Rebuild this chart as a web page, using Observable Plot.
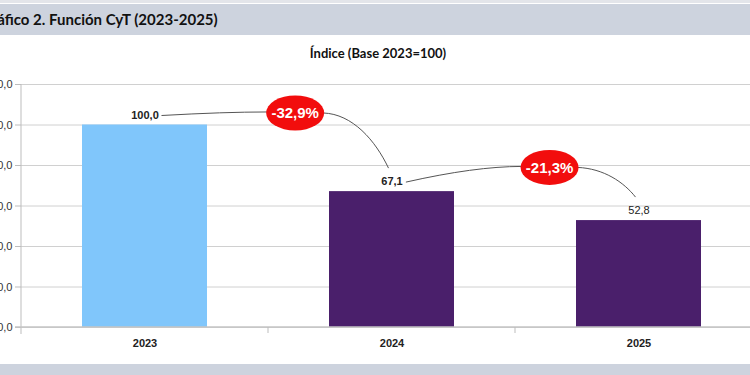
<!DOCTYPE html>
<html>
<head>
<meta charset="utf-8">
<script src="https://cdn.jsdelivr.net/npm/d3@7"></script>
<script src="https://cdn.jsdelivr.net/npm/@observablehq/plot@0.6"></script>
<style>
  html, body { margin: 0; padding: 0; background: #fff; }
  body { width: 750px; height: 375px; overflow: hidden; position: relative; font-family: "Liberation Sans", Arial, sans-serif; }
  #topstrip { position: absolute; left: 0; top: 0; width: 750px; height: 3px; background: #e3e5ea; }
  #title { position: absolute; left: 0; top: 4px; width: 750px; height: 31px; background: #cdd3de;
           font-family: Lato, "Open Sans", sans-serif; font-weight: 700; font-size: 15px; line-height: 31px;
           white-space: nowrap; overflow: hidden; color: #111; }
  #title span { display: inline-block; margin-left: -19px; }
  #subtitle { position: absolute; left: 0; top: 44px; width: 756px; text-align: center;
              font-family: Lato, "Open Sans", sans-serif; font-weight: 700; font-size: 13px; line-height: 18px; color: #111; }
  #chart { position: absolute; left: -39px; top: 70px; }
  #bottom { position: absolute; left: 0; top: 364px; width: 750px; height: 11px; background: #cdd3de; }
</style>
</head>
<body>
<div id="topstrip"></div>
<div id="title"><span></span></div>
<div id="subtitle"></div>
<div id="chart"></div>
<div id="bottom"></div>
<script>
// ---- data ----
const title = "Gráfico 2. Función CyT (2023-2025)";
const subtitle = "Índice (Base 2023=100)";
const years = ["2023", "2024", "2025"];
const values = [100.0, 67.1, 52.8];
const barColors = ["#80c6fb", "#4a1f6b", "#4a1f6b"];
const changes = ["-32,9%", "-21,3%"];
const yTicks = [0, 20, 40, 60, 80, 100, 120];

// ---- layout of the callouts (positions, not data) ----
const callout = [{frac: 0.61, at: 105.7}, {frac: 0.64, at: 78.8}];

const fmt = d => d.toFixed(1).replace(".", ",");
const data = years.map((year, i) => ({year, value: values[i], color: barColors[i], label: fmt(values[i])}));

document.querySelector("#title span").textContent = title;
document.querySelector("#subtitle").textContent = subtitle;

function decorations(index, scales, vals, dims) {
  const {x, y} = scales;
  const bw = typeof x.bandwidth === "function" ? x.bandwidth() : (x.bandwidth || 0);
  const cx = k => x(years[k]) + bw / 2;
  const step = cx(1) - cx(0);
  const left = dims.marginLeft, right = dims.width - dims.marginRight, top = dims.marginTop;
  const y0 = y(0);
  const g = d3.create("svg:g");
  // axis lines
  g.append("line").attr("x1", left).attr("x2", left).attr("y1", top).attr("y2", y0 + 7)
    .attr("stroke", "#bdbdbd");
  g.append("line").attr("x1", left - 6).attr("x2", right).attr("y1", y0).attr("y2", y0)
    .attr("stroke", "#c4c4c4").attr("stroke-width", 1.5);
  for (let k = 0; k < years.length - 1; k++) {
    const xs = cx(k) + step / 2;
    g.append("line").attr("x1", xs).attr("x2", xs).attr("y1", y0).attr("y2", y0 + 6).attr("stroke", "#bdbdbd");
  }
  // callouts
  const rx = 29, ry = 17.5;
  callout.forEach((c, i) => {
    const half = data[i].label.length * 2.6;
    const lx = cx(i) + half + 4, ly = y(values[i]) - 9;
    const ex = cx(i) + c.frac * step, ey = y(c.at);
    const ax = ex - rx + 1, ay = ey - 1;
    const nx = cx(i + 1) - 3, ny = y(values[i + 1]) - 10 - 13;
    const bx = ex + rx - 1, by = ey;
    g.append("path")
      .attr("d", `M${lx},${ly} Q${lx + 0.6 * (ax - lx)},${ay} ${ax},${ay}`)
      .attr("fill", "none").attr("stroke", "#555").attr("stroke-width", 1);
    const dx = nx - bx, dy = ny - by;
    g.append("path")
      .attr("d", `M${bx},${by} C${bx + 0.45 * dx},${by + 1} ${nx - 0.2 * dx},${ny - 0.5 * dy} ${nx},${ny}`)
      .attr("fill", "none").attr("stroke", "#555").attr("stroke-width", 1);
    g.append("ellipse").attr("cx", ex).attr("cy", ey).attr("rx", rx).attr("ry", ry).attr("fill", "#f20d0d");
    g.append("text").attr("x", ex).attr("y", ey).attr("dy", "0.36em")
      .attr("text-anchor", "middle").attr("fill", "#fff")
      .attr("font-family", "'Liberation Sans', Arial, sans-serif")
      .attr("font-weight", "bold").attr("font-size", 15).text(changes[i]);
  });
  return g.node();
}

const chart = Plot.plot({
  width: 801,
  height: 293,
  marginLeft: 60,
  marginRight: 0,
  marginTop: 14,
  marginBottom: 36,
  style: {maxWidth: "none", overflow: "visible", background: "transparent",
          fontFamily: "'Liberation Sans', Arial, sans-serif"},
  x: {domain: years, paddingInner: 0.494, paddingOuter: 0.247, align: 0.5, label: null},
  y: {domain: [0, 120], label: null},
  color: {type: "identity"},
  marks: [
    Plot.gridY(yTicks, {stroke: "#d0d0d0", strokeOpacity: 1}),
    Plot.barY(data, {x: "year", y: "value", fill: "color"}),
    Plot.axisY({ticks: yTicks, tickSize: 6, tickPadding: 3, tickFormat: fmt, stroke: "#bdbdbd",
                fill: "#333", fontSize: 11, label: null}),
    Plot.axisX({tickSize: 0, tickPadding: 12, fontSize: 11, fontWeight: "bold", fill: "#222", label: null}),
    decorations,
    Plot.text(data.filter(d => d.year !== "2025"),
              {x: "year", y: "value", text: "label", dy: -10, fontWeight: "bold", fontSize: 11, fill: "#222"}),
    Plot.text(data.filter(d => d.year === "2025"),
              {x: "year", y: "value", text: "label", dy: -10, fontSize: 11, fill: "#222"})
  ]
});
document.getElementById("chart").appendChild(chart);
</script>
</body>
</html>
